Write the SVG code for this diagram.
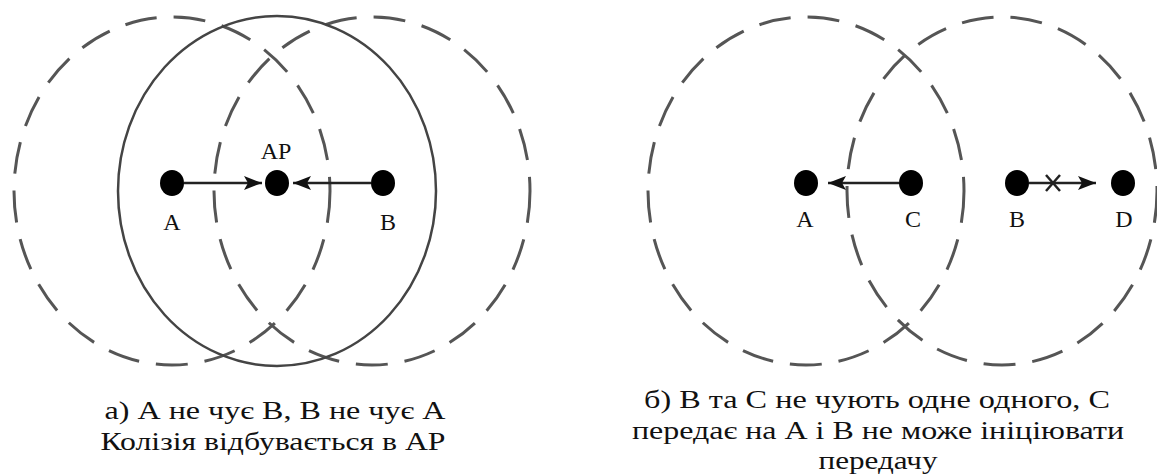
<svg xmlns="http://www.w3.org/2000/svg" width="1157" height="474" viewBox="0 0 1157 474">
<style>
.bg{fill:#fff}
.dash{fill:none;stroke:#555;stroke-width:3;stroke-dasharray:32 17}
.solid{fill:none;stroke:#444;stroke-width:2.5}
.dot{fill:#000}
.link{stroke:#222;stroke-width:2.5;fill:none}
.lbl{font-family:"Liberation Serif","Times New Roman",serif;font-size:24px;fill:#111;text-anchor:middle}
.cap{font-family:"Liberation Serif","Times New Roman",serif;font-size:26px;fill:#111;text-anchor:middle}
</style>
<defs>
<marker id="arr" markerUnits="userSpaceOnUse" viewBox="0 0 18 14" refX="18" refY="7" markerWidth="18" markerHeight="14" orient="auto">
<path d="M0,0 L18,7 L0,14 L4,7 z" fill="#111"/>
</marker>
</defs>
<rect class="bg" x="0" y="0" width="1157" height="474"/>

<g id="ranges-a">
<ellipse class="dash" cx="172" cy="191" rx="158" ry="174"/>
<ellipse class="dash" cx="372" cy="191" rx="158" ry="174"/>
<ellipse class="solid" cx="277" cy="191" rx="159" ry="175"/>
</g>
<g id="ranges-b">
<ellipse class="dash" cx="806" cy="191" rx="158" ry="174"/>
<ellipse class="dash" cx="1002" cy="191" rx="155" ry="174"/>
</g>

<g id="connectors">
<line class="link" x1="184" y1="183" x2="262" y2="183" marker-end="url(#arr)"/>
<line class="link" x1="371" y1="183" x2="293" y2="183" marker-end="url(#arr)"/>
<line class="link" x1="899" y1="183" x2="828" y2="183" marker-end="url(#arr)"/>
<line class="link" x1="1029" y1="183" x2="1096" y2="183" marker-end="url(#arr)"/>
<path class="link" d="M1046,175 L1060,191 M1060,175 L1046,191"/>
</g>

<g id="node-a-A"><ellipse class="dot" cx="172" cy="183" rx="12" ry="13"/><text class="lbl" x="172" y="230">A</text></g>
<g id="node-a-AP"><ellipse class="dot" cx="277" cy="183" rx="12" ry="13"/><text class="lbl" x="276" y="159">AP</text></g>
<g id="node-a-B"><ellipse class="dot" cx="383" cy="183" rx="12" ry="13"/><text class="lbl" x="388" y="230">B</text></g>

<g id="node-b-A"><ellipse class="dot" cx="806" cy="183" rx="12" ry="13"/><text class="lbl" x="805" y="227">A</text></g>
<g id="node-b-C"><ellipse class="dot" cx="911" cy="183" rx="12" ry="13"/><text class="lbl" x="913" y="227">C</text></g>
<g id="node-b-B"><ellipse class="dot" cx="1017" cy="183" rx="12" ry="13"/><text class="lbl" x="1017" y="227">B</text></g>
<g id="node-b-D"><ellipse class="dot" cx="1123" cy="183" rx="12" ry="13"/><text class="lbl" x="1124" y="227">D</text></g>

<g id="caption-a">
<text class="cap" x="275" y="419" textLength="341" lengthAdjust="spacingAndGlyphs">а) А не чує В, В не чує А</text>
<text class="cap" x="273" y="450" textLength="345" lengthAdjust="spacingAndGlyphs">Колізія відбувається в АР</text>
</g>
<g id="caption-b">
<text class="cap" x="877" y="408" textLength="466" lengthAdjust="spacingAndGlyphs">б) В та С не чують одне одного, С</text>
<text class="cap" x="878" y="439" textLength="492" lengthAdjust="spacingAndGlyphs">передає на А і В не може ініціювати</text>
<text class="cap" x="878" y="469" textLength="119" lengthAdjust="spacingAndGlyphs">передачу</text>
</g>
</svg>
